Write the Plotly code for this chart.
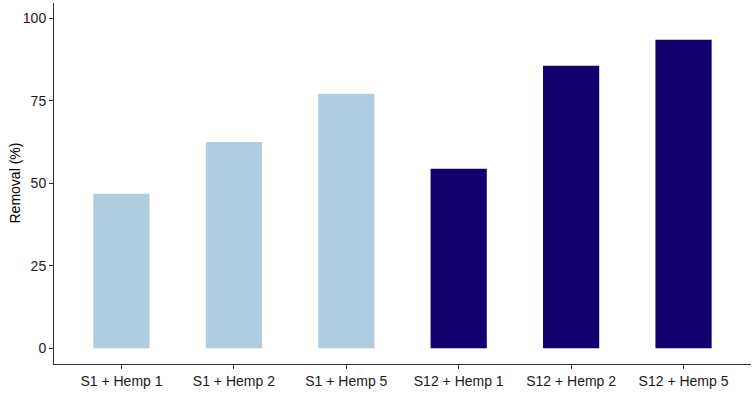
import plotly.graph_objects as go

categories = ["S1 + Hemp 1", "S1 + Hemp 2", "S1 + Hemp 5",
              "S12 + Hemp 1", "S12 + Hemp 2", "S12 + Hemp 5"]
removal = [46.8, 62.5, 77.1, 54.4, 85.6, 93.5]
group = ["S1", "S1", "S1", "S12", "S12", "S12"]
group_colors = {"S1": "#B0CDE0", "S12": "#13006F"}
y_ticks = [0, 25, 50, 75, 100]

fig = go.Figure()
fig.add_trace(go.Bar(
    x=categories, y=removal, width=0.5,
    marker=dict(color=[group_colors[g] for g in group], line=dict(width=0)),
    showlegend=False,
))

font = "Liberation Sans, Arial, sans-serif"
fig.update_layout(
    width=754, height=394,
    margin=dict(l=54, r=3, t=3, b=30, autoexpand=False),
    plot_bgcolor="white", paper_bgcolor="white",
    font=dict(family=font, size=14, color="#1a1a1a"),
    xaxis=dict(
        range=[-0.6, 5.6], showline=True, linecolor="#333333", linewidth=1,
        ticks="outside", ticklen=4, tickcolor="#333333", tickwidth=1,
        showgrid=False, zeroline=False, automargin=False,
        tickfont=dict(size=14, color="#1a1a1a"),
    ),
    yaxis=dict(
        range=[-4.75, 104.6], showline=True, linecolor="#333333", linewidth=1,
        ticks="outside", ticklen=4, tickcolor="#333333", tickwidth=1,
        tickvals=y_ticks, showgrid=False, zeroline=False, automargin=False,
        tickfont=dict(size=14, color="#1a1a1a"),
    ),
    annotations=[dict(
        text="Removal (%)", textangle=-90, xref="paper", yref="paper",
        x=0, y=0.5, xanchor="center", yanchor="middle", xshift=-40,
        showarrow=False, font=dict(size=14, color="#000000"),
    )],
)
fig.write_html("out.html", config={"displayModeBar": False},
               post_script="document.body.style.margin='0';")
